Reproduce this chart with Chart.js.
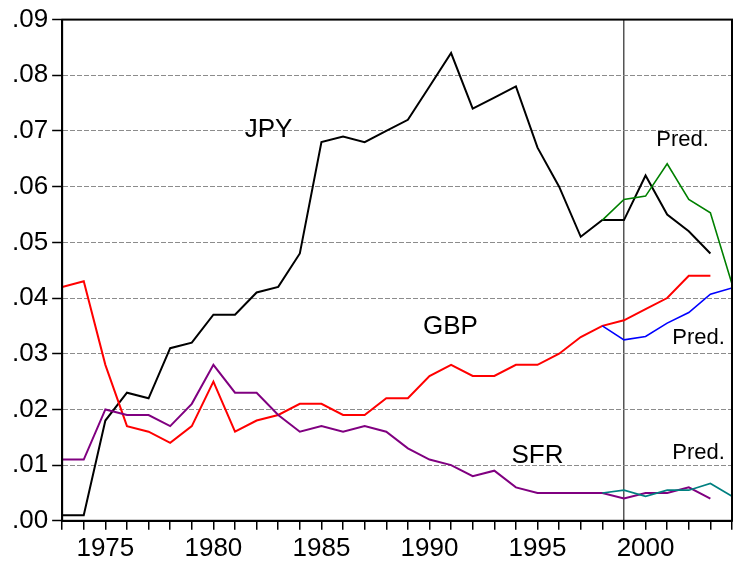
<!DOCTYPE html>
<html>
<head>
<meta charset="utf-8">
<style>
  html, body { margin: 0; padding: 0; background: #fff; }
  #chart { display: block; }
</style>
<script src="https://cdn.jsdelivr.net/npm/chart.js@4.4.1/dist/chart.umd.min.js"></script>
</head>
<body>
<canvas id="chart" width="735" height="571"></canvas>
<script>
"use strict";

// years of the actual series
const years = [1973, 1974, 1975, 1976, 1977, 1978, 1979, 1980, 1981, 1982,
               1983, 1984, 1985, 1986, 1987, 1988, 1989, 1990, 1991, 1992,
               1993, 1994, 1995, 1996, 1997, 1998, 1999, 2000, 2001, 2002, 2003];
// years of the predictions (start from the last common point)
const predYears = [1998, 1999, 2000, 2001, 2002, 2003, 2004];

const jpy = [0.001, 0.001, 0.018, 0.023, 0.022, 0.031, 0.032, 0.037, 0.037, 0.041,
             0.042, 0.048, 0.068, 0.069, 0.068, 0.070, 0.072, 0.078, 0.084, 0.074,
             0.076, 0.078, 0.067, 0.060, 0.051, 0.054, 0.054, 0.062, 0.055, 0.052, 0.048];
const gbp = [0.042, 0.043, 0.028, 0.017, 0.016, 0.014, 0.017, 0.025, 0.016, 0.018,
             0.019, 0.021, 0.021, 0.019, 0.019, 0.022, 0.022, 0.026, 0.028, 0.026,
             0.026, 0.028, 0.028, 0.030, 0.033, 0.035, 0.036, 0.038, 0.040, 0.044, 0.044];
const sfr = [0.011, 0.011, 0.020, 0.019, 0.019, 0.017, 0.021, 0.028, 0.023, 0.023,
             0.019, 0.016, 0.017, 0.016, 0.017, 0.016, 0.013, 0.011, 0.010, 0.008,
             0.009, 0.006, 0.005, 0.005, 0.005, 0.005, 0.004, 0.005, 0.005, 0.006, 0.004];

const jpyPred = [0.054, 0.0577, 0.0583, 0.0641, 0.0577, 0.0553, 0.0425];
const gbpPred = [0.035, 0.0325, 0.0331, 0.0355, 0.0374, 0.0407, 0.0418];
const sfrPred = [0.005, 0.0055, 0.0044, 0.0055, 0.0055, 0.0067, 0.0044];

const sampleSplit = 1999;

// text labels placed in data coordinates: [text, year, value, size]
const labels = [
    ["JPY", 1982.55, 0.0702, 26],
    ["GBP", 1990.97, 0.0349, 26],
    ["SFR", 1995.0, 0.0117, 26],
    ["Pred.", 2001.71, 0.0684, 22],
    ["Pred.", 2002.45, 0.0329, 22],
    ["Pred.", 2002.45, 0.0122, 22]
];

const FONT = "'Liberation Sans', Arial, sans-serif";

function pts(xs, ys) {
    return xs.map((x, i) => ({ x: x, y: ys[i] }));
}

function line(data, color, width) {
    return {
        data: data,
        borderColor: color,
        borderWidth: width,
        pointRadius: 0,
        tension: 0,
        fill: false
    };
}

// frame round the plot area and the text labels
const decor = {
    id: 'decor',
    afterDatasetsDraw(chart) {
        const ctx = chart.ctx;
        const a = chart.chartArea;
        const xs = chart.scales.x;
        const ys = chart.scales.y;
        ctx.save();
        ctx.fillStyle = '#000';
        ctx.textAlign = 'center';
        ctx.textBaseline = 'middle';
        labels.forEach(l => {
            ctx.font = l[3] + 'px ' + FONT;
            ctx.fillText(l[0], xs.getPixelForValue(l[1]), ys.getPixelForValue(l[2]));
        });
        ctx.strokeStyle = '#000';
        ctx.lineWidth = 2;
        ctx.strokeRect(a.left, a.top, a.right - a.left, a.bottom - a.top);
        ctx.restore();
    }
};

new Chart(document.getElementById('chart'), {
    type: 'line',
    data: {
        datasets: [
            line(pts(predYears, jpyPred), '#008000', 1.6),
            line(pts(predYears, gbpPred), '#0000ff', 1.6),
            line(pts(predYears, sfrPred), '#008080', 1.6),
            line(pts(years, sfr), '#800080', 2),
            line(pts(years, gbp), '#ff0000', 2),
            line(pts(years, jpy), '#000000', 2)
        ]
    },
    options: {
        responsive: false,
        animation: false,
        layout: { padding: { left: 8, right: 3, top: 18, bottom: 4 } },
        plugins: {
            legend: { display: false },
            tooltip: { enabled: false }
        },
        scales: {
            x: {
                type: 'linear',
                min: 1973,
                max: 2004,
                grid: {
                    drawOnChartArea: true,
                    color: c => (c.tick && c.tick.value === sampleSplit) ? '#555555' : 'rgba(0,0,0,0)',
                    lineWidth: 1.5,
                    tickColor: '#000',
                    tickWidth: 1.5,
                    tickLength: 9
                },
                border: { color: '#000', width: 2 },
                ticks: {
                    stepSize: 1,
                    autoSkip: false,
                    maxRotation: 0,
                    padding: 3,
                    color: '#000',
                    font: { family: FONT, size: 26 },
                    callback: v => (v % 5 === 0 ? String(v) : '')
                }
            },
            y: {
                min: 0,
                max: 0.09,
                grid: {
                    color: '#8c8c8c',
                    lineWidth: 1,
                    tickColor: '#000',
                    tickWidth: 1.5,
                    tickLength: 10
                },
                border: { color: '#000', width: 2, dash: [5, 2] },
                ticks: {
                    stepSize: 0.01,
                    padding: 4,
                    color: '#000',
                    font: { family: FONT, size: 26 },
                    callback: v => v.toFixed(2).slice(1)
                }
            }
        }
    },
    plugins: [decor]
});
</script>
</body>
</html>
